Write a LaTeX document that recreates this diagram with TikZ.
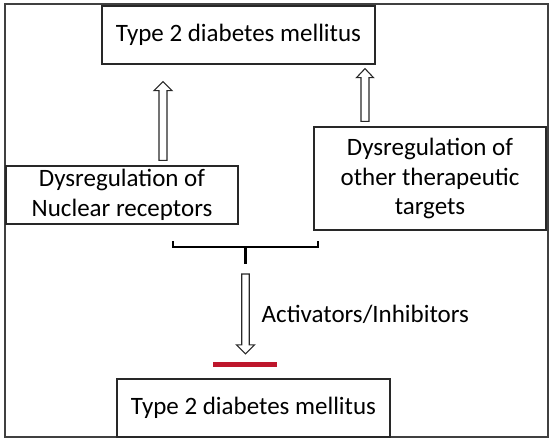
\documentclass[tikz,border=0pt]{standalone}
\usepackage{fontspec}
\setmainfont{Carlito}
\usetikzlibrary{calc}
\definecolor{inhred}{RGB}{190,22,44}
\definecolor{framegray}{RGB}{64,64,64}
\definecolor{boxline}{RGB}{40,40,40}
\begin{document}
\begin{tikzpicture}[x=1pt,y=-1pt,
  box/.style={draw=boxline, line width=1.3pt, rectangle, inner sep=0pt, align=center,
    font=\fontsize{25pt}{29.5pt}\selectfont},
  blockarr/.style={draw=boxline, line width=1.1pt, fill=white, line join=miter},
  bracket/.style={draw=black, line width=2.4pt},
  lbl/.style={font=\fontsize{25pt}{29.5pt}\selectfont, inner sep=0pt}]
\useasboundingbox (0,0) rectangle (550,439);
% outer frame
\draw[framegray, line width=2pt] (5,4) rectangle (548,437);
% boxes
\node[box, minimum width=273pt, minimum height=58pt] (t2a) at (238.5,35) {Type 2 diabetes mellitus};
\node[box, minimum width=232pt, minimum height=58pt] (nr) at (122,195) {Dysregulation of\\Nuclear receptors};
\node[box, minimum width=232pt, minimum height=103pt] (ot) at (430,178.5) {Dysregulation of\\other therapeutic\\targets};
\node[box, minimum width=273pt, minimum height=58pt] (t2b) at (253.5,408) {Type 2 diabetes mellitus};
% inhibition bar
\node[fill=inhred, draw=none, inner sep=0pt, minimum width=64pt, minimum height=5pt] (inh) at (245,364.5) {};
% bracket joining the two dysregulation boxes
\coordinate (bl) at (173,241);
\coordinate (br) at (318,241);
\coordinate (bm) at (245.5,247);
\coordinate (stem) at (245.5,264);
\draw[bracket] (bl) -- (bl |- bm) -- (br |- bm) -- (br);
\draw[bracket] (bm) -- (stem);
% hollow up arrow: nuclear receptors -> T2DM
\draw[blockarr] let \p1=(nr.north), \p2=(t2a.south) in
  (159pt,\y1+5pt) -- (159pt,\y2-26pt) -- (154pt,\y2-26pt) -- (163pt,\y2-17pt)
  -- (172pt,\y2-26pt) -- (167pt,\y2-26pt) -- (167pt,\y1+5pt) -- cycle;
% hollow up arrow: other targets -> T2DM
\draw[blockarr] let \p1=(ot.north), \p2=(t2a.south) in
  (361pt,\y1+5pt) -- (361pt,\y2-13pt) -- (356.5pt,\y2-13pt) -- (365pt,\y2-4pt)
  -- (373.5pt,\y2-13pt) -- (369pt,\y2-13pt) -- (369pt,\y1+5pt) -- cycle;
% hollow down arrow: bracket -> inhibition bar
\draw[blockarr] let \p1=(stem), \p2=(inh.north) in
  (241.75pt,\y1-10pt) -- (241.75pt,\y2+17pt) -- (236.5pt,\y2+17pt) -- (245.5pt,\y2+8pt)
  -- (254.5pt,\y2+17pt) -- (249.25pt,\y2+17pt) -- (249.25pt,\y1-10pt) -- cycle;
% label
\node[lbl, anchor=base west] (act) at (261.5,322) {Activators/Inhibitors};
\end{tikzpicture}
\end{document}
